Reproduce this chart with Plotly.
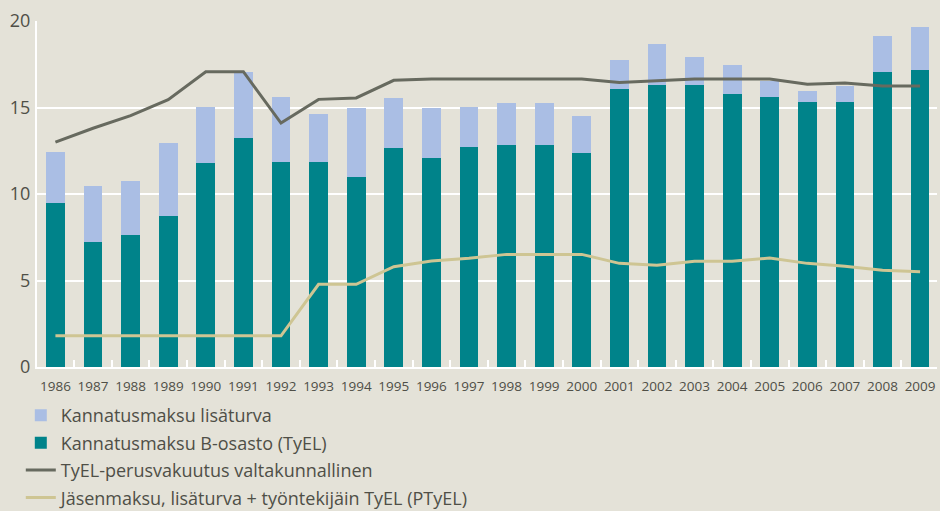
import plotly.graph_objects as go

years = [str(y) for y in range(1986, 2010)]
b_osasto = [9.5, 7.23, 7.65, 8.73, 11.79, 13.24, 11.85, 11.85, 10.98, 12.66, 12.08, 12.72,
            12.83, 12.83, 12.37, 16.07, 16.3, 16.3, 15.78, 15.6, 15.32, 15.32, 17.05, 17.17]
lisaturva = [2.95, 3.23, 3.1, 4.22, 3.24, 3.81, 3.75, 2.77, 3.99, 2.89, 2.89, 2.31,
             2.43, 2.43, 2.13, 1.68, 2.37, 1.62, 1.68, 0.93, 0.63, 0.92, 2.08, 2.48]
tyel_perus = [13.0, 13.8, 14.53, 15.45, 17.07, 17.07, 14.1, 15.47, 15.55, 16.57, 16.65, 16.65,
              16.65, 16.65, 16.65, 16.45, 16.57, 16.65, 16.65, 16.65, 16.34, 16.42, 16.24, 16.24]
jasenmaksu = [1.8, 1.8, 1.8, 1.8, 1.8, 1.8, 1.8, 4.78, 4.78, 5.8, 6.13, 6.28,
              6.51, 6.51, 6.51, 5.99, 5.88, 6.11, 6.11, 6.3, 5.99, 5.82, 5.59, 5.51]
y_ticks = [0, 5, 10, 15, 20]

BG = "#E4E2D8"
TXT = "#4F4F47"
FONT = "Open Sans"

fig = go.Figure()
fig.add_trace(go.Bar(x=years, y=b_osasto, name="Kannatusmaksu B-osasto (TyEL)",
                     marker=dict(color="#00838A", line=dict(width=0)),
                     legendrank=2, legendgroup="b"))
fig.add_trace(go.Bar(x=years, y=lisaturva, name="Kannatusmaksu lisäturva",
                     marker=dict(color="#AABEE4", line=dict(width=0)),
                     legendrank=1, legendgroup="a"))
fig.add_trace(go.Scatter(x=years, y=tyel_perus, name="TyEL-perusvakuutus valtakunnallinen",
                         mode="lines", line=dict(color="#676A5F", width=3),
                         legendrank=3, legendgroup="c"))
fig.add_trace(go.Scatter(x=years, y=jasenmaksu, name="Jäsenmaksu, lisäturva + työntekijäin TyEL (PTyEL)",
                         mode="lines", line=dict(color="#CEC593", width=3),
                         legendrank=4, legendgroup="d"))

fig.update_layout(
    width=940, height=511,
    paper_bgcolor=BG, plot_bgcolor=BG,
    margin=dict(l=37, r=3, t=21, b=144, autoexpand=False),
    barmode="stack", bargap=0.5,
    font=dict(family=FONT, color=TXT),
    showlegend=True,
    legend=dict(orientation="v", x=-0.018, xanchor="left", y=-0.087, yanchor="top",
                bgcolor="rgba(0,0,0,0)", font=dict(size=18, color=TXT, family=FONT),
                traceorder="grouped", tracegroupgap=1, itemwidth=30),
    xaxis=dict(type="category", range=[-0.49, 23.45], showgrid=False, automargin=False,
               showline=True, linecolor="white", linewidth=2,
               ticks="inside", tickson="boundaries", tickcolor="white", ticklen=7, tickwidth=2,
               tickangle=0, ticklabelstandoff=6,
               tickfont=dict(size=13.5, color=TXT, family=FONT)),
    yaxis=dict(range=[0, 20], tickvals=y_ticks, showgrid=True, gridcolor="white", gridwidth=2,
               showline=True, linecolor="white", linewidth=2, zeroline=False, automargin=False,
               ticks="", ticklabelstandoff=1,
               tickfont=dict(size=18, color=TXT, family=FONT)),
)

fig.write_html("out.html", config={"displayModeBar": False},
               post_script="document.body.style.margin='0';document.body.style.overflow='hidden';")
